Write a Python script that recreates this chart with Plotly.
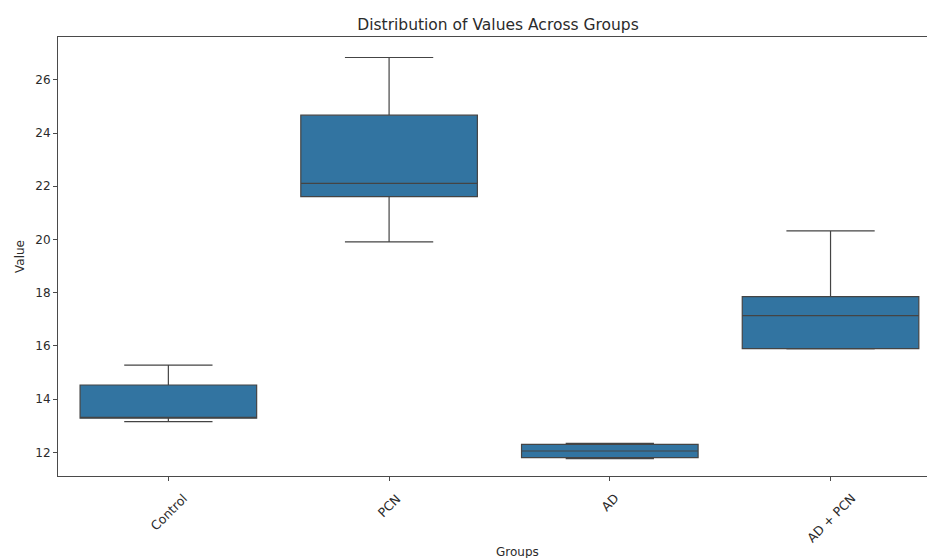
import plotly.graph_objects as go

# Group names and five-number summaries for each box
groups = ["Control", "PCN", "AD", "AD + PCN"]
lower_whisker = [13.15, 19.91, 11.76, 15.89]
q1 = [13.28, 21.61, 11.80, 15.90]
median = [13.30, 22.11, 12.05, 17.14]
q3 = [14.53, 24.67, 12.30, 17.85]
upper_whisker = [15.28, 26.84, 12.34, 20.32]

y_ticks = [12, 14, 16, 18, 20, 22, 24, 26]

FONT = "DejaVu Sans"
TEXT = "#2b2b2b"
SPINE = "#4a4a4a"
TICK_SIZE = 12

fig = go.Figure()
fig.add_trace(go.Box(
    x=groups,
    q1=q1,
    median=median,
    q3=q3,
    lowerfence=lower_whisker,
    upperfence=upper_whisker,
    boxpoints=False,
    width=0.8,
    whiskerwidth=0.5,
    fillcolor="#3274a1",
    line=dict(color="#444444", width=1.2),
    showlegend=False,
    hoverinfo="skip",
))

# Rotated category labels centred under each tick
annotations = [
    dict(x=g, xref="x", y=0, yref="paper", yshift=-12,
         text=g, textangle=-45, showarrow=False,
         xanchor="center", yanchor="top",
         font=dict(family=FONT, size=TICK_SIZE + 0.5, color=TEXT))
    for g in groups
]
annotations.append(dict(
    x=(58 + 0.5 * (927 - 58 + 13)) / 927 - 0.5 * 13 / 927 - 0.003,
    xref="paper", y=0, yref="paper", yshift=-67,
    text="Groups", showarrow=False, xanchor="center", yanchor="top",
    font=dict(family=FONT, size=12, color=TEXT)))

fig.update_layout(
    width=927,
    height=558,
    margin=dict(l=58, r=0, t=37, b=82),
    paper_bgcolor="white",
    plot_bgcolor="white",
    title=dict(text="Distribution of Values Across Groups",
               x=498 / 927, xanchor="center",
               y=1 - 25 / 558, yanchor="middle",
               font=dict(family=FONT, size=15.5, color=TEXT)),
    annotations=annotations,
    xaxis=dict(
        type="category",
        categoryorder="array",
        categoryarray=groups,
        range=[-0.5, 3.437],
        showgrid=False,
        zeroline=False,
        showline=True,
        mirror=True,
        linecolor=SPINE,
        linewidth=1,
        ticks="outside",
        ticklen=4,
        tickcolor=SPINE,
        showticklabels=False,
    ),
    yaxis=dict(
        range=[11.11, 27.61],
        tickvals=y_ticks,
        showgrid=False,
        zeroline=False,
        showline=True,
        mirror=False,
        linecolor=SPINE,
        linewidth=1,
        ticks="outside",
        ticklen=4,
        tickcolor=SPINE,
        tickfont=dict(family=FONT, size=TICK_SIZE, color=TEXT),
        title=dict(text="Value", standoff=8,
                   font=dict(family=FONT, size=12, color=TEXT)),
    ),
)

fig.write_html("out.html")
